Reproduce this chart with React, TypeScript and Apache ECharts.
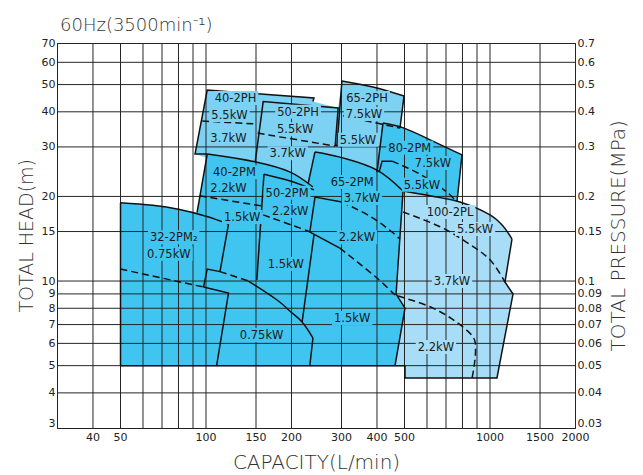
import React, { useEffect, useRef } from 'react';
import * as echarts from 'echarts';

const FONT = "'DejaVu Sans', 'Noto Sans', sans-serif";

// Axis ranges
const Q_MIN = 30;
const Q_MAX = 2000;
const H_MIN = 3;
const H_MAX = 70;
const P_MIN = 0.03;
const P_MAX = 0.7;

// Grid lines and tick labels
const X_GRID = [40, 50, 60, 70, 80, 90, 100, 150, 200, 300, 400, 500, 600, 700, 800, 900, 1000, 1500, 2000];
const Y_GRID = [4, 5, 6, 7, 8, 9, 10, 15, 20, 30, 40, 50, 60, 70];
const X_LABELS = [40, 50, 100, 150, 200, 300, 400, 500, 1000, 1500, 2000];
const HEAD_LABELS = [3, 4, 5, 6, 7, 8, 9, 10, 15, 20, 30, 40, 50, 60, 70];
const PRESSURE_LABELS = [0.03, 0.04, 0.05, 0.06, 0.07, 0.08, 0.09, 0.1, 0.15, 0.2, 0.3, 0.4, 0.5, 0.6, 0.7];

// Filled regions [capacity L/min, head m]
const LIGHT_AREA = [
  [444, 20.2], [494, 20.9], [615, 20.1], [784, 19.1], [1000, 17.2], [1111, 15.7], [1195, 14.1],
  [1129, 9.92], [1205, 8.99], [1058, 4.52], [502, 4.52], [502, 5], [444, 5],
];
const MEDIUM_AREA = [
  [91.5, 28.3], [101, 47.8], [240, 44.8], [238, 43.5], [292, 41.3], [301, 51.5], [387, 49],
  [498, 45.5], [482, 35], [427, 24.4], [273, 24.8], [238, 21.1], [149, 25.7], [103, 27.2],
];
const DARK_AREA = [
  [50, 19], [65, 18.6], [80, 18.0], [93, 17.5], [101, 28.3], [150, 26.5], [198, 24.4], [229, 22.3],
  [242, 28.8], [296, 27.6], [400, 24.8], [420, 36.5], [498, 35.0], [615, 31.8], [797, 28.1],
  [765, 19.1], [494, 20.9], [467, 8.99], [502, 8.01], [463, 5], [50, 5],
];

// Solid pump curves (smoothed)
const SOLID_CURVES = [
  [[50, 19], [65, 18.6], [80, 18.0], [100, 17.0], [120, 15.95]],
  [[141, 10], [178, 8.56], [199, 7.76], [218, 7.15], [238, 6.27]],
  [[101, 28.3], [150, 26.5], [198, 24.4], [238, 21.6]],
  [[160, 24.0], [198, 22.7], [240, 21.1]],
  [[242, 28.8], [296, 27.6], [400, 24.8], [494, 20.9]],
  [[420, 36.5], [498, 35.0], [615, 31.8], [797, 28.1]],
  [[494, 20.9], [615, 20.1], [784, 19.1], [1000, 17.2], [1111, 15.7], [1195, 14.1]],
  [[301, 51.5], [387, 49], [498, 45.5]],
];

// Solid straight outlines
const SOLID_LINES = [
  [[50, 5], [50, 19]],
  [[120, 15.95], [112, 10.8]],
  [[50, 5], [502, 5]],
  [[98, 9.52], [120, 9.06], [109, 5]],
  [[98, 9.52], [101, 11.03], [112, 10.8]],
  [[238, 6.27], [232, 5]],
  [[93, 17.5], [101, 28.3]],
  [[151, 10.08], [160, 24.0]],
  [[232, 14.94], [242, 19.9], [301, 19.1]],
  [[229, 15.06], [296, 13.1]],
  [[240, 14.6], [218, 7.15]],
  [[229, 22.3], [242, 28.8]],
  [[494, 20.9], [467, 8.99], [502, 8.01], [463, 5]],
  [[400, 24.4], [420, 36.5]],
  [[797, 28.1], [765, 19.1]],
  [[407, 24.4], [417, 26.7], [452, 26.7]],
  [[1195, 14.1], [1129, 9.92], [1205, 8.99], [1058, 4.52], [502, 4.52], [502, 5]],
  [[101, 28.3], [91.5, 28.3], [101, 47.8], [240, 44.8], [238, 43.5]],
  [[149, 26.5], [159, 43.5], [292, 41.3], [285, 30.2]],
  [[289, 30.2], [301, 51.5]],
  [[498, 45.5], [482, 35]],
  [[285, 30.5], [301, 30.0]],
];

// Dashed (motor power) boundaries
const DASHED_LINES = [
  [[50, 11.03], [98, 9.52]],
  [[112, 10.8], [141, 10]],
  [[95, 20.1], [157, 18.5]],
  [[159, 17.2], [229, 15.06]],
  [[301, 19.1], [378, 17.0], [452, 14.94], [482, 14.1]],
  [[296, 13.1], [400, 10.25], [463, 8.92]],
  [[452, 26.7], [567, 24.0], [706, 20.7], [753, 19.4]],
  [[494, 17.6], [667, 15.6], [830, 13.7], [1000, 11.9], [1129, 9.92]],
  [[474, 8.84], [630, 8.01], [803, 6.86], [886, 6.07], [865, 4.52]],
  [[97, 37.1], [150, 36.2]],
  [[152, 33.6], [285, 30.2]],
  [[304, 38.7], [482, 35]],
];

// Model / motor labels [capacity, head, text, tone]
const MODEL_LABELS: [number, number, string, string][] = [
  [127, 44.8, '40-2PH', 'medium'],
  [121, 39, '5.5kW', 'medium'],
  [120, 32.3, '3.7kW', 'medium'],
  [211, 40, '50-2PH', 'medium'],
  [206, 34.7, '5.5kW', 'medium'],
  [194, 28.5, '3.7kW', 'medium'],
  [369, 44.8, '65-2PH', 'medium'],
  [360, 39.3, '7.5kW', 'medium'],
  [343, 31.8, '5.5kW', 'medium'],
  [522, 29.8, '80-2PM', 'dark'],
  [630, 26.3, '7.5kW', 'dark'],
  [576, 22, '5.5kW', 'dark'],
  [126, 24.4, '40-2PM', 'dark'],
  [120, 21.4, '2.2kW', 'dark'],
  [134, 16.9, '1.5kW', 'dark'],
  [193, 20.6, '50-2PM', 'dark'],
  [198, 17.75, '2.2kW', 'dark'],
  [327, 22.5, '65-2PM', 'dark'],
  [354, 19.75, '3.7kW', 'dark'],
  [340, 14.3, '2.2kW', 'dark'],
  [77, 14.3, '32-2PM\u2082', 'dark'],
  [74, 12.5, '0.75kW', 'dark'],
  [191, 11.5, '1.5kW', 'dark'],
  [327, 7.38, '1.5kW', 'dark'],
  [157, 6.43, '0.75kW', 'dark'],
  [723, 17.6, '100-2PL', 'light'],
  [886, 15.3, '5.5kW', 'light'],
  [735, 10, '3.7kW', 'light'],
  [645, 5.82, '2.2kW', 'light'],
];

const TONES: Record<string, string> = {
  light: '#a7ddf7',
  medium: '#7dd2f4',
  dark: '#40c5f1',
};

const AREAS = [
  { points: LIGHT_AREA, color: TONES.light },
  { points: MEDIUM_AREA, color: TONES.medium },
  { points: DARK_AREA, color: TONES.dark },
];

const LINES = [
  ...SOLID_CURVES.map((pts) => ({ pts, dashed: false, smooth: 0.35 })),
  ...SOLID_LINES.map((pts) => ({ pts, dashed: false, smooth: 0 })),
  ...DASHED_LINES.map((pts) => ({ pts, dashed: true, smooth: 0.35 })),
];

function buildOption(): any {
  const nameStyle = { fontSize: 20, color: '#333', fontFamily: FONT, fontWeight: 200 };
  return {
    animation: false,
    backgroundColor: '#fff',
    title: {
      text: '60Hz(3500min\u207B\u00B9)',
      left: 55,
      top: 10,
      textStyle: { fontSize: 18, fontWeight: 200, color: '#333', fontFamily: FONT },
    },
    grid: {
      left: 57.5,
      right: 67.5,
      top: 43.5,
      bottom: 47,
      containLabel: false,
      outerBoundsMode: 'none',
    },
    xAxis: {
      type: 'log',
      logBase: 10,
      min: Q_MIN,
      max: Q_MAX,
      name: 'CAPACITY(L/min)',
      nameLocation: 'middle',
      nameGap: 24,
      nameTextStyle: nameStyle,
      axisLine: { show: true, lineStyle: { color: '#222', width: 1 } },
      axisTick: { show: false },
      axisLabel: { show: false },
      splitLine: { show: false },
    },
    yAxis: [
      {
        type: 'log',
        logBase: 10,
        min: H_MIN,
        max: H_MAX,
        name: 'TOTAL HEAD(m)',
        nameLocation: 'middle',
        nameGap: 22,
        nameTextStyle: { ...nameStyle, fontSize: 19 },
        axisLine: { show: true, lineStyle: { color: '#222', width: 1 } },
        axisTick: { show: false },
        axisLabel: { show: false },
        splitLine: { show: false },
      },
      {
        type: 'log',
        logBase: 10,
        min: P_MIN,
        max: P_MAX,
        position: 'right',
        name: 'TOTAL PRESSURE(MPa)',
        nameLocation: 'middle',
        nameGap: 32,
        nameTextStyle: nameStyle,
        axisLine: { show: true, lineStyle: { color: '#222', width: 1 } },
        axisTick: { show: false },
        axisLabel: { show: false },
        splitLine: { show: false },
      },
    ],
    series: [
      {
        type: 'custom',
        name: 'areas',
        silent: true,
        z: 1,
        data: AREAS.map((a, i) => [a.points[0][0], a.points[0][1], i]),
        renderItem: (params: any, api: any) => {
          const a = AREAS[params.dataIndex];
          return {
            type: 'polygon',
            shape: { points: a.points.map((p) => api.coord(p)) },
            style: { fill: a.color, stroke: null },
          };
        },
      },
      {
        type: 'custom',
        name: 'grid',
        silent: true,
        z: 2,
        data: [
          ...X_GRID.map((q) => [q, H_MIN, 0]),
          ...Y_GRID.map((h) => [Q_MIN, h, 1]),
        ],
        renderItem: (params: any, api: any) => {
          const q = api.value(0);
          const h = api.value(1);
          const vertical = api.value(2) === 0;
          const a = api.coord([q, h]);
          const b = vertical ? api.coord([q, H_MAX]) : api.coord([Q_MAX, h]);
          return {
            type: 'line',
            shape: { x1: a[0], y1: a[1], x2: b[0], y2: b[1] },
            style: { stroke: '#262626', lineWidth: 1 },
          };
        },
      },
      {
        type: 'custom',
        name: 'outlines',
        silent: true,
        z: 3,
        data: LINES.map((l, i) => [l.pts[0][0], l.pts[0][1], i]),
        renderItem: (params: any, api: any) => {
          const l = LINES[params.dataIndex];
          return {
            type: 'polyline',
            shape: { points: l.pts.map((p) => api.coord(p)), smooth: l.smooth },
            style: {
              stroke: '#111',
              lineWidth: 1.5,
              fill: null,
              lineDash: l.dashed ? [7, 4] : null,
            },
          };
        },
      },
      {
        type: 'custom',
        name: 'modelLabels',
        silent: true,
        z: 4,
        data: MODEL_LABELS.map((m) => [m[0], m[1]]),
        renderItem: (params: any, api: any) => {
          const m = MODEL_LABELS[params.dataIndex];
          const p = api.coord([m[0], m[1]]);
          return {
            type: 'text',
            x: p[0],
            y: p[1],
            style: {
              text: m[2],
              fill: '#1a1a1a',
              fontSize: 11.5,
              fontFamily: FONT,
              align: 'center',
              verticalAlign: 'middle',
              backgroundColor: TONES[m[3]],
              padding: [1, 2],
            },
          };
        },
      },
      {
        type: 'custom',
        name: 'xTicks',
        silent: true,
        z: 4,
        data: X_LABELS.map((q) => [q, H_MIN]),
        renderItem: (params: any, api: any) => {
          const q = api.value(0);
          const p = api.coord([q, api.value(1)]);
          return {
            type: 'text',
            x: p[0],
            y: p[1] + 9,
            style: { text: String(q), fill: '#222', fontSize: 11, fontFamily: FONT, align: 'center', verticalAlign: 'middle' },
          };
        },
      },
      {
        type: 'custom',
        name: 'headTicks',
        silent: true,
        z: 4,
        data: HEAD_LABELS.map((h) => [Q_MIN, h]),
        renderItem: (params: any, api: any) => {
          const h = api.value(1);
          const p = api.coord([api.value(0), h]);
          return {
            type: 'text',
            x: p[0] - 2,
            y: p[1] + (h === H_MIN ? -5 : 0),
            style: { text: String(h), fill: '#222', fontSize: 11, fontFamily: FONT, align: 'right', verticalAlign: 'middle' },
          };
        },
      },
      {
        type: 'custom',
        name: 'pressureTicks',
        silent: true,
        yAxisIndex: 1,
        z: 4,
        data: PRESSURE_LABELS.map((v) => [Q_MAX, v]),
        renderItem: (params: any, api: any) => {
          const v = api.value(1);
          const p = api.coord([api.value(0), v]);
          return {
            type: 'text',
            x: p[0] + 2,
            y: p[1] + (v === P_MIN ? -5 : 0),
            style: { text: String(v), fill: '#222', fontSize: 11, fontFamily: FONT, align: 'left', verticalAlign: 'middle' },
          };
        },
      },
    ],
  };
}

export default function App() {
  const ref = useRef<HTMLDivElement>(null);
  useEffect(() => {
    if (!ref.current) return;
    const chart = echarts.init(ref.current, undefined, { renderer: 'svg' });
    chart.setOption(buildOption());
    return () => {
      chart.dispose();
    };
  }, []);
  return (
    <div
      ref={ref}
      style={{ position: 'absolute', left: 0, top: 0, width: 643, height: 475, background: '#fff' }}
    />
  );
}
